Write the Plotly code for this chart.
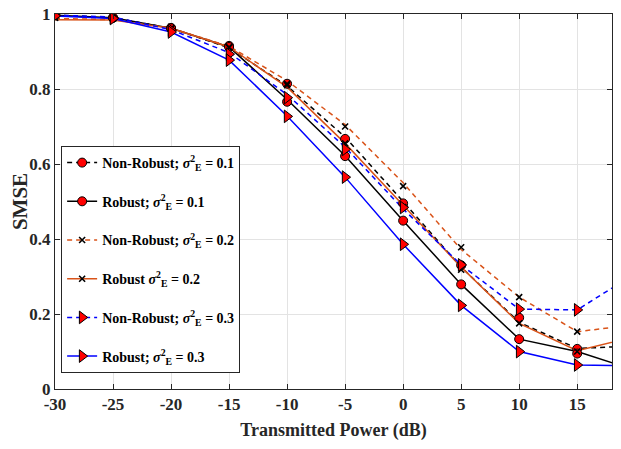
import plotly.graph_objects as go

# transmitted power (dB)
power_line = [-30, -25, -20, -15, -10, -5, 0, 5, 10, 15, 20]
power_mark = [-30, -25, -20, -15, -10, -5, 0, 5, 10, 15]
x_ticks = [-30, -25, -20, -15, -10, -5, 0, 5, 10, 15]
x_ticktext = ["-30", "-25", "-20", "-15", "-10", "-5", "0", "5", "10", "15"]

# SMSE curves (lines)
nr01_line = [0.997, 0.990, 0.962, 0.910, 0.808, 0.672, 0.500, 0.325, 0.178, 0.108, 0.115]
r01_line = [0.997, 0.990, 0.962, 0.912, 0.772, 0.622, 0.449, 0.279, 0.133, 0.100, 0.050]
nr02_line = [0.988, 0.985, 0.962, 0.914, 0.822, 0.705, 0.550, 0.372, 0.245, 0.153, 0.171]
r02_line = [0.985, 0.984, 0.962, 0.912, 0.805, 0.655, 0.490, 0.325, 0.175, 0.102, 0.140]
nr03_line = [0.997, 0.992, 0.958, 0.897, 0.785, 0.645, 0.480, 0.331, 0.213, 0.211, 0.308]
r03_line = [0.995, 0.988, 0.952, 0.877, 0.728, 0.565, 0.386, 0.223, 0.100, 0.064, 0.062]

# SMSE markers
nr01_mark = [0.997, 0.990, 0.963, 0.915, 0.814, 0.667, 0.495, 0.330, 0.190, 0.107]
r01_mark = [0.997, 0.990, 0.962, 0.912, 0.766, 0.621, 0.449, 0.279, 0.133, 0.0945]
nr02_mark = [0.990, 0.988, 0.962, 0.912, 0.814, 0.700, 0.541, 0.378, 0.245, 0.153]
r02_mark = [0.990, 0.988, 0.960, 0.910, 0.810, 0.655, 0.485, 0.318, 0.175, 0.100]
nr03_mark = [0.997, 0.990, 0.957, 0.893, 0.777, 0.639, 0.484, 0.331, 0.213, 0.211]
r03_mark = [0.995, 0.988, 0.952, 0.877, 0.727, 0.565, 0.386, 0.223, 0.0997, 0.064]

labels = [
    "Non-Robust; <i>σ</i><sup>2</sup><sub>E</sub> = 0.1",
    "Robust; <i>σ</i><sup>2</sup><sub>E</sub> = 0.1",
    "Non-Robust; <i>σ</i><sup>2</sup><sub>E</sub> = 0.2",
    "Robust <i>σ</i><sup>2</sup><sub>E</sub> = 0.2",
    "Non-Robust; <i>σ</i><sup>2</sup><sub>E</sub> = 0.3",
    "Robust; <i>σ</i><sup>2</sup><sub>E</sub> = 0.3",
]

ORANGE = "#D95319"
BLUE = "#0000FF"
DASH = "5px,4px"
SERIF = "Liberation Serif, Times New Roman, serif"
INK = "#262626"

circle = dict(symbol="circle", size=9, color="red", line=dict(color="black", width=1))
tri = dict(symbol="triangle-right", size=11, color="red", line=dict(color="black", width=1))
cross = dict(symbol="x-thin", size=6, color="black", line=dict(color="black", width=1.6))

series = [
    (nr01_line, nr01_mark, "black", DASH, circle),
    (r01_line, r01_mark, "black", "solid", circle),
    (nr02_line, nr02_mark, ORANGE, DASH, cross),
    (r02_line, r02_mark, ORANGE, "solid", cross),
    (nr03_line, nr03_mark, BLUE, DASH, tri),
    (r03_line, r03_mark, BLUE, "solid", tri),
]

fig = go.Figure()
for y_line, _, color, dash, _ in series:
    fig.add_trace(
        go.Scatter(
            x=power_line,
            y=y_line,
            mode="lines",
            line=dict(color=color, width=1.5, dash=dash),
            showlegend=False,
        )
    )
for _, y_mark, _, _, marker in series:
    fig.add_trace(
        go.Scatter(
            x=power_mark,
            y=y_mark,
            mode="markers",
            marker=marker,
            showlegend=False,
        )
    )
# legend entries
for i, (_, _, color, dash, marker) in enumerate(series):
    fig.add_trace(
        go.Scatter(
            x=[None],
            y=[None],
            mode="lines+markers",
            name=labels[i],
            legendgroup=str(i),
            line=dict(color=color, width=1.5, dash=dash),
            marker=marker,
        )
    )

axis_style = dict(
    showline=True,
    linecolor=INK,
    linewidth=1,
    mirror="ticks",
    ticks="inside",
    ticklen=5,
    tickcolor=INK,
    showgrid=True,
    gridcolor="#E3E3E3",
    gridwidth=1,
    zeroline=False,
    automargin=False,
    ticklabeloverflow="allow",
    tickfont=dict(family=SERIF, size=17, color=INK, weight="bold"),
)

fig.update_xaxes(
    range=[-30, 18],
    tickvals=x_ticks,
    ticktext=x_ticktext,
    title=dict(
        text="Transmitted Power (dB)",
        font=dict(family=SERIF, size=18, color=INK, weight="bold"),
        standoff=9,
    ),
    **axis_style,
)
fig.update_yaxes(
    range=[0, 1],
    tickmode="linear",
    tick0=0,
    dtick=0.2,
    title=dict(
        text="SMSE",
        font=dict(family=SERIF, size=21, color=INK, weight="bold"),
        standoff=4,
    ),
    **axis_style,
)
# the page body adds an 8px offset, so the figure is sized to fit the window
fig.update_layout(
    width=613,
    height=441,
    margin=dict(l=47, r=9, t=6, b=60),
    paper_bgcolor="white",
    plot_bgcolor="white",
    legend=dict(
        x=0.011,
        y=0.648,
        xanchor="left",
        yanchor="top",
        bgcolor="white",
        bordercolor=INK,
        borderwidth=1,
        traceorder="grouped",
        tracegroupgap=17.5,
        font=dict(family=SERIF, size=14, color="black", weight="bold"),
    ),
)
fig.write_html("out.html")
